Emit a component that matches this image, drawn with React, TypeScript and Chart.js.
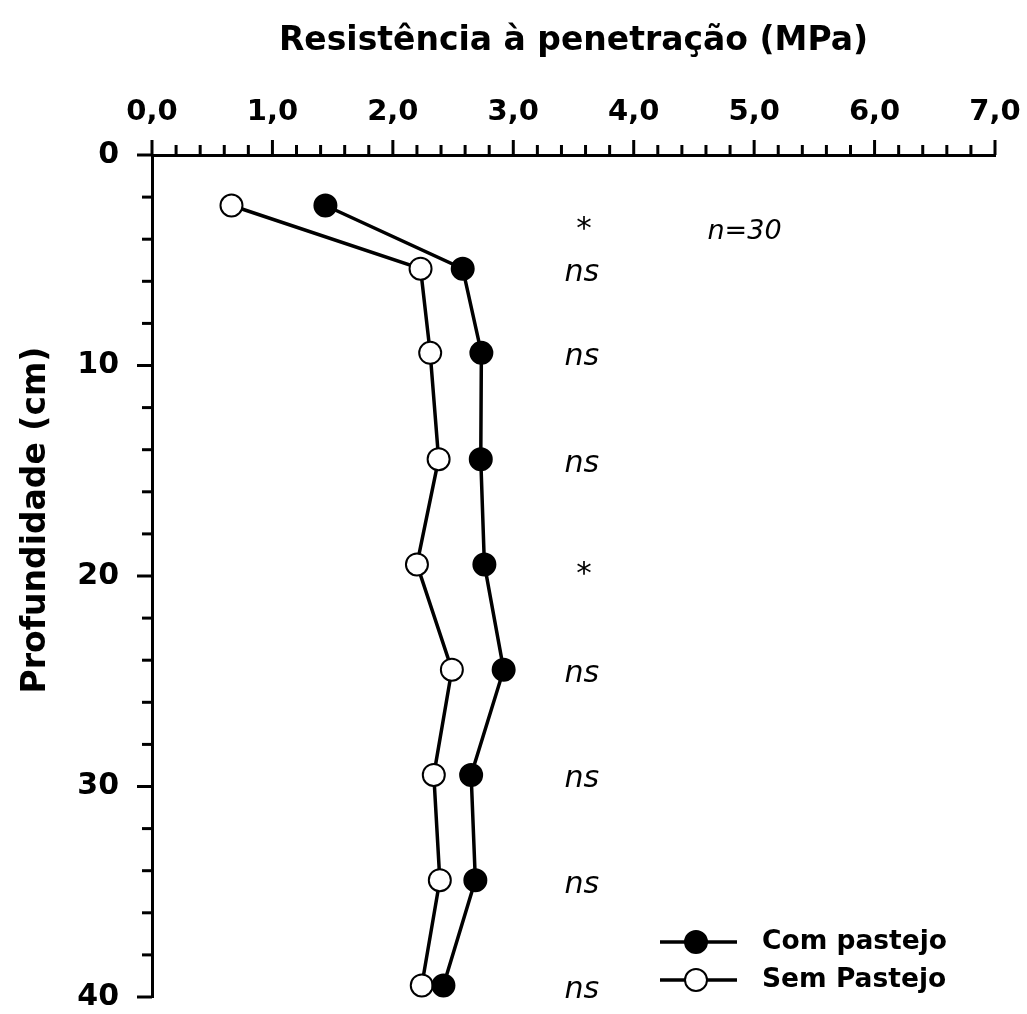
import React, { useEffect, useRef } from 'react';
import { Chart, registerables } from 'chart.js';

Chart.register(...registerables);

// ---- data ----
const depths = [2.4, 5.4, 9.4, 14.45, 19.45, 24.45, 29.45, 34.45, 39.45];
const comPastejo = [1.44, 2.58, 2.735, 2.73, 2.76, 2.92, 2.65, 2.685, 2.42];
const semPastejo = [0.66, 2.23, 2.31, 2.38, 2.2, 2.49, 2.34, 2.39, 2.24];
const significance = ['*', 'ns', 'ns', 'ns', '*', 'ns', 'ns', 'ns', 'ns'];
const seriesNames = ['Com pastejo', 'Sem Pastejo'];
const xTitle = 'Resistência à penetração (MPa)';
const yTitle = 'Profundidade (cm)';
const sampleNote = 'n=30';
const xRange = [0, 7];
const yRange = [0, 40];
const xStep = 0.2;
const yStep = 2;
const sigColumnValue = 3.57;
const noteColumnValue = 4.92;

const FONT = '"DejaVu Sans", "Liberation Sans", Arial, sans-serif';

const isInt = (v: number) => Math.abs(v - Math.round(v)) < 1e-6;

function drawCenteredInk(ctx: CanvasRenderingContext2D, text: string, x: number, cy: number) {
  const m = ctx.measureText(text);
  const asc = m.actualBoundingBoxAscent;
  const desc = m.actualBoundingBoxDescent;
  ctx.textBaseline = 'alphabetic';
  ctx.textAlign = 'center';
  ctx.fillText(text, x, cy + (asc - desc) / 2);
}

const decorPlugin = {
  id: 'decor',
  afterDraw(chart: any) {
    const ctx: CanvasRenderingContext2D = chart.ctx;
    const xs = chart.scales.x;
    const ys = chart.scales.y;
    const ca = chart.chartArea;
    ctx.save();
    ctx.strokeStyle = '#000';
    ctx.fillStyle = '#000';
    ctx.lineWidth = 3;
    ctx.lineCap = 'butt';

    // x tick marks (outward, upward)
    xs.ticks.forEach((t: any) => {
      const px = xs.getPixelForValue(t.value);
      const len = isInt(t.value) ? 15 : 10;
      ctx.beginPath();
      ctx.moveTo(px, ca.top);
      ctx.lineTo(px, ca.top - len);
      ctx.stroke();
    });
    // y tick marks (outward, leftward)
    ys.ticks.forEach((t: any) => {
      const py = ys.getPixelForValue(t.value);
      const len = Math.round(t.value) % 10 === 0 ? 15 : 10;
      ctx.beginPath();
      ctx.moveTo(ca.left, py);
      ctx.lineTo(ca.left - len, py);
      ctx.stroke();
    });

    // y title
    ctx.save();
    ctx.translate(45, 520);
    ctx.rotate(-Math.PI / 2);
    ctx.font = `bold 33px ${FONT}`;
    ctx.textAlign = 'center';
    ctx.textBaseline = 'alphabetic';
    ctx.fillText(yTitle, 0, 0);
    ctx.restore();

    // significance annotations
    const sx = xs.getPixelForValue(sigColumnValue);
    significance.forEach((s, i) => {
      const py = ys.getPixelForValue(depths[i]);
      const cy = py + (i === 0 ? 17 : 4);
      if (s === '*') {
        ctx.font = `31px ${FONT}`;
      } else {
        ctx.font = `italic 30px ${FONT}`;
      }
      drawCenteredInk(ctx, s, sx + (s === '*' ? 2 : 0), cy);
    });
    ctx.font = `italic 27px ${FONT}`;
    drawCenteredInk(ctx, sampleNote, xs.getPixelForValue(noteColumnValue), ys.getPixelForValue(depths[0]) + 23);

    // legend
    const legendRows = [
      { name: seriesNames[0], fill: '#000', y: 942 },
      { name: seriesNames[1], fill: '#fff', y: 980 },
    ];
    legendRows.forEach((r) => {
      ctx.lineWidth = 3.5;
      ctx.strokeStyle = '#000';
      ctx.beginPath();
      ctx.moveTo(660, r.y);
      ctx.lineTo(737, r.y);
      ctx.stroke();
      ctx.beginPath();
      ctx.arc(696, r.y, 11, 0, Math.PI * 2);
      ctx.fillStyle = r.fill;
      ctx.fill();
      ctx.lineWidth = 2;
      ctx.stroke();
      ctx.fillStyle = '#000';
      ctx.font = `bold 26.5px ${FONT}`;
      ctx.textAlign = 'left';
      ctx.textBaseline = 'alphabetic';
      ctx.fillText(r.name, 762, r.y + 7);
    });

    ctx.restore();
  },
};

export default function App() {
  const ref = useRef<HTMLCanvasElement | null>(null);

  useEffect(() => {
    if (!ref.current) return;
    const chart = new Chart(ref.current, {
      type: 'scatter',
      data: {
        datasets: [
          {
            label: seriesNames[0],
            data: depths.map((d, i) => ({ x: comPastejo[i], y: d })),
            showLine: true,
            borderColor: '#000',
            borderWidth: 3.5,
            backgroundColor: '#000',
            pointBackgroundColor: '#000',
            pointBorderColor: '#000',
            pointBorderWidth: 2,
            pointRadius: 11,
            tension: 0,
            clip: false,
          },
          {
            label: seriesNames[1],
            data: depths.map((d, i) => ({ x: semPastejo[i], y: d })),
            showLine: true,
            borderColor: '#000',
            borderWidth: 3.5,
            backgroundColor: '#fff',
            pointBackgroundColor: '#fff',
            pointBorderColor: '#000',
            pointBorderWidth: 2,
            pointRadius: 11,
            tension: 0,
            clip: false,
          },
        ],
      },
      options: {
        responsive: false,
        animation: false,
        events: [],
        layout: { padding: { left: 0, top: 0, right: 32, bottom: 17 } },
        plugins: {
          legend: { display: false },
          tooltip: { enabled: false },
        },
        scales: {
          x: {
            type: 'linear',
            position: 'top',
            min: xRange[0],
            max: xRange[1],
            afterFit: (s: any) => {
              s.height = 155;
            },
            grid: {
              display: true,
              drawOnChartArea: false,
              drawTicks: true,
              tickLength: 25,
              tickColor: 'rgba(0,0,0,0)',
              color: 'rgba(0,0,0,0)',
            },
            border: { display: true, color: '#000', width: 3 },
            ticks: {
              stepSize: xStep,
              autoSkip: false,
              maxRotation: 0,
              color: '#000',
              padding: 0,
              font: { family: FONT, weight: 'bold', size: 29 },
              callback: (v: any) => (isInt(Number(v)) ? Number(v).toFixed(1).replace('.', ',') : ''),
            },
            title: {
              display: true,
              text: xTitle,
              color: '#000',
              font: { family: FONT, weight: 'bold', size: 33 },
              padding: { top: 22, bottom: 0 },
            },
          },
          y: {
            type: 'linear',
            position: 'left',
            reverse: true,
            min: yRange[0],
            max: yRange[1],
            afterFit: (s: any) => {
              s.width = 152;
            },
            grid: {
              display: true,
              drawOnChartArea: false,
              drawTicks: true,
              tickLength: 33,
              tickColor: 'rgba(0,0,0,0)',
              color: 'rgba(0,0,0,0)',
            },
            border: { display: true, color: '#000', width: 3 },
            ticks: {
              stepSize: yStep,
              autoSkip: false,
              color: '#000',
              padding: 0,
              font: { family: FONT, weight: 'bold', size: 30, lineHeight: 1 },
              callback: (v: any) => (Math.round(Number(v)) % 10 === 0 ? String(Math.round(Number(v))) : ''),
            },
          },
        },
      },
      plugins: [decorPlugin],
    } as any);
    return () => chart.destroy();
  }, []);

  return (
    <div style={{ position: 'absolute', left: 0, top: 0, width: 1027, height: 1014, background: '#fff' }}>
      <canvas ref={ref} width={1027} height={1014} />
    </div>
  );
}
